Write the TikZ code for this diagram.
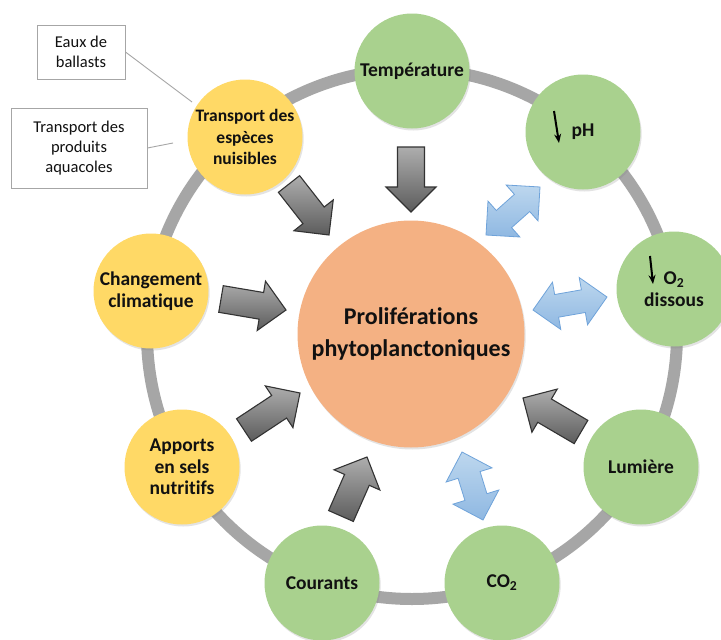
\documentclass[tikz,border=0pt]{standalone}
\usepackage{fontspec}
\setmainfont{Carlito}[Ligatures=NoCommon]
\usetikzlibrary{calc,shadows,arrows.meta}
\definecolor{cgreen}{HTML}{A9D18E}
\definecolor{cyellow}{HTML}{FFD966}
\definecolor{corange}{HTML}{F4B183}
\definecolor{cring}{HTML}{A6A6A6}
\definecolor{bluelight}{HTML}{BDD7EE}
\definecolor{bluedark}{HTML}{8FB8E2}
\definecolor{blueedge}{HTML}{6FA3DA}
\definecolor{boxedge}{HTML}{A6A6A6}
\definecolor{txt}{HTML}{111111}
\tikzset{
  ringnode/.style={circle, minimum size=115pt, inner sep=0pt, align=center,
    text=txt, font=\fontsize{19.5}{21.5}\selectfont\bfseries,
    drop shadow={opacity=0.22, shadow xshift=1.2pt, shadow yshift=-2pt}},
  greennode/.style={ringnode, fill=cgreen},
  yellownode/.style={ringnode, fill=cyellow},
  smalltext/.style={font=\fontsize{17.5}{21.5}\selectfont\bfseries},
  centernode/.style={circle, minimum size=227pt, inner sep=0pt, align=center,
    fill=corange, text=txt, font=\fontsize{24}{32}\selectfont\bfseries,
    drop shadow={opacity=0.22, shadow xshift=1.2pt, shadow yshift=-2pt}},
  ringline/.style={draw=cring, line width=12pt},
  grayarrow/.style={top color=black!32, bottom color=black!64, draw=black!80, line width=1.1pt, line join=miter},
  bluearrow/.style={top color=bluelight, bottom color=bluedark, draw=blueedge, line width=0.8pt, line join=miter},
  notebox/.style={draw=boxedge, line width=0.9pt, fill=white, align=center,
    text=txt, font=\fontsize{16.5}{20}\selectfont, inner sep=0pt},
  noteline/.style={draw=boxedge, line width=0.9pt},
  downarr/.style={line width=2pt, -{Stealth[length=9pt,width=7pt]}}
}
\newcommand\blockarr[2]{%
  \coordinate (#1h) at ($(#2)!25pt!(#1)$);
  \draw[grayarrow] ($(#1)!13.5pt!90:(#2)$) -- ($(#1h)!13.5pt!90:(#2)$) -- ($(#1h)!25pt!90:(#2)$) -- (#2)
    -- ($(#1h)!25pt!-90:(#2)$) -- ($(#1h)!13.5pt!-90:(#2)$) -- ($(#1)!13.5pt!-90:(#2)$) -- cycle;}
\newcommand\dblarr[2]{%
  \coordinate (#1h) at ($(#1)!24pt!(#2)$);
  \coordinate (#2h) at ($(#2)!24pt!(#1)$);
  \draw[bluearrow] (#1) -- ($(#1h)!24pt!90:(#2)$) -- ($(#1h)!11.5pt!90:(#2)$) -- ($(#2h)!11.5pt!90:(#2)$)
    -- ($(#2h)!24pt!90:(#2)$) -- (#2) -- ($(#2h)!24pt!-90:(#2)$) -- ($(#2h)!11.5pt!-90:(#2)$)
    -- ($(#1h)!11.5pt!-90:(#2)$) -- ($(#1h)!24pt!-90:(#2)$) -- cycle;}
\begin{document}
\begin{tikzpicture}[x=1pt,y=-1pt]
\useasboundingbox (0,0) rectangle (721,640);
\clip (0,0) rectangle (721,640);
\fill[white] (0,0) rectangle (721,640);

% ring
\draw[ringline] (412,334) circle[radius=265pt];

% centre
\node[centernode] (center) at (411,334) {Proliférations\\phytoplanctoniques};

% ring nodes
\node[greennode] (temp) at (412,71) {Température};
\node[greennode] (ph) at (583,132) {pH};
\node[greennode] (o2) at (674,289) {O\textsubscript{2}\\dissous};
\node[greennode] (lum) at (641,467) {Lumière};
\node[greennode] (co2) at (502,583) {CO\textsubscript{2}};
\node[greennode] (cour) at (322,583) {Courants};
\node[yellownode] (app) at (182,467) {Apports\\en sels\\nutritifs};
\node[yellownode] (chg) at (151,291) {Changement\\climatique};
\node[yellownode, smalltext] (trans) at (245,137) {Transport des\\espèces\\nuisibles};

% small down arrows
\coordinate (phA) at (554,111);
\coordinate (phB) at (559,143);
\draw[downarr] (phA) -- (phB);
\coordinate (oA) at (650,256);
\coordinate (oB) at (653,284);
\draw[downarr] (oA) -- (oB);

% grey arrows (tail, tip)
\coordinate (tempT) at (411,147);  \coordinate (tempP) at (411,212);
\coordinate (transT) at (289,184); \coordinate (transP) at (329,235);
\coordinate (chgT) at (221,299);   \coordinate (chgP) at (286,310);
\coordinate (appT) at (244,430);   \coordinate (appP) at (300,393);
\coordinate (courT) at (341,516);  \coordinate (courP) at (367,457);
\coordinate (lumT) at (581,432);   \coordinate (lumP) at (523,398);
\blockarr{tempT}{tempP}
\blockarr{transT}{transP}
\blockarr{chgT}{chgP}
\blockarr{appT}{appP}
\blockarr{courT}{courP}
\blockarr{lumT}{lumP}

% blue double arrows
\coordinate (phdA) at (486,235); \coordinate (phdB) at (540,187);
\coordinate (o2dA) at (533,310); \coordinate (o2dB) at (607,297);
\coordinate (co2dA) at (462,452); \coordinate (co2dB) at (483,520);
\dblarr{phdA}{phdB}
\dblarr{o2dA}{o2dB}
\dblarr{co2dA}{co2dB}

% note boxes
\coordinate (l1end) at (192,102);
\coordinate (l2end) at (173,143);
\node[notebox, minimum width=88pt, minimum height=54pt] (ballast) at (81,52) {Eaux de\\ballasts};
\node[notebox, minimum width=136pt, minimum height=80pt] (aqua) at (79,148) {Transport des\\produits\\aquacoles};
\draw[noteline] (ballast.east) -- (l1end);
\draw[noteline] (aqua.east) -- (l2end);
\end{tikzpicture}
\end{document}
